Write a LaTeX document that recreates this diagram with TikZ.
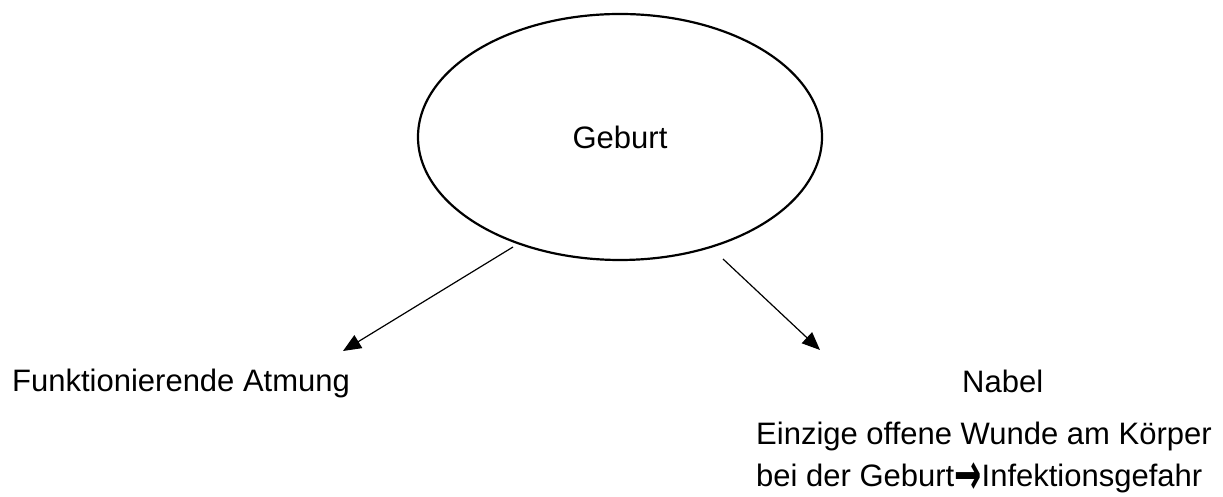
\documentclass[tikz,border=0pt]{standalone}
\usepackage{fontspec}
\usepackage{graphicx}
\setmainfont{Liberation Sans}
\newfontfamily\arrowfont{DejaVu Sans Bold}
\usetikzlibrary{shapes.geometric,arrows.meta}
\begin{document}
\begin{tikzpicture}[x=1pt,y=1pt,
  lbl/.style={font=\fontsize{31}{36}\selectfont, inner sep=0pt, anchor=base west},
  conn/.style={line width=1.2pt, -{Triangle[length=18pt,width=15pt]}},
  bubble/.style={ellipse, draw, line width=2.2pt, minimum width=404pt,
    minimum height=246pt, inner sep=0pt, font=\fontsize{31}{36}\selectfont}]
\useasboundingbox (0,0) rectangle (1223,497);
\node[bubble] (g) at (620,360) {Geburt};
\node[lbl] (a) at (12,105) {Funktionierende Atmung};
\node[lbl] (n) at (962,104) {Nabel};
\node[lbl] (l1) at (756,52) {Einzige offene Wunde am Körper};
\node[lbl] (l2) at (756,10) {bei der Geburt{\arrowfont\raisebox{-8pt}{\scalebox{1.05}[1.9]{→}}}Infektionsgefahr};
\coordinate (s1) at (513,250);
\coordinate (t1) at (343,146);
\coordinate (s2) at (723,238);
\coordinate (t2) at (820,147);
\draw[conn] (s1) -- (t1);
\draw[conn] (s2) -- (t2);
\end{tikzpicture}
\end{document}
